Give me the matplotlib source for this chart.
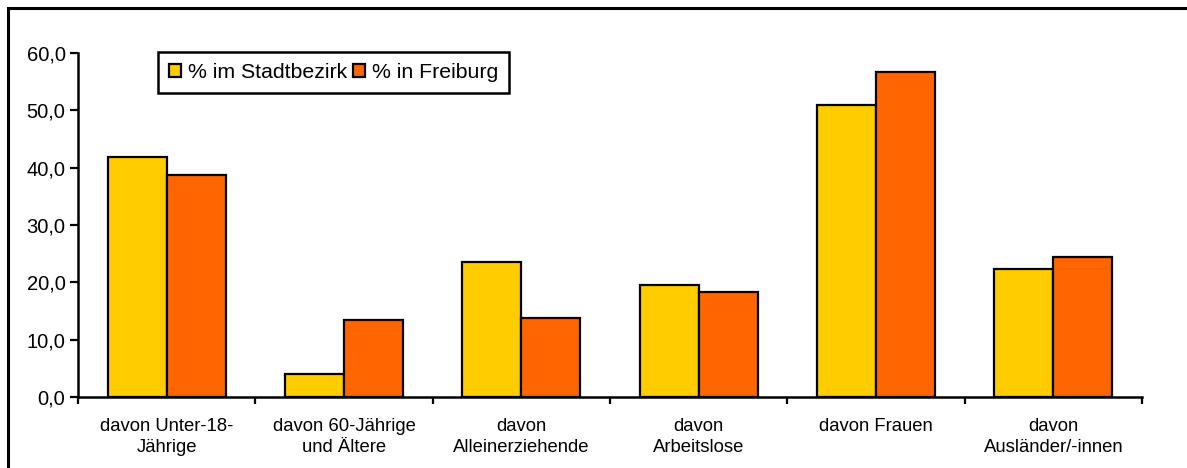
import numpy as np
import matplotlib
matplotlib.use("Agg")
import matplotlib.pyplot as plt
from matplotlib.patches import Rectangle

plt.rcParams['font.family'] = ['Liberation Sans', 'DejaVu Sans']

# categories and values
categories = ['davon Unter-18-\nJährige', 'davon 60-Jährige\nund Ältere',
              'davon\nAlleinerziehende', 'davon\nArbeitslose',
              'davon Frauen', 'davon\nAusländer/-innen']
stadtbezirk = [41.9, 4.0, 23.5, 19.5, 50.9, 22.3]
freiburg = [38.7, 13.4, 13.8, 18.3, 56.7, 24.4]
series_names = ['% im Stadtbezirk', '% in Freiburg']
yticks = [0, 10, 20, 30, 40, 50, 60]

W, H = 1187, 468
fig = plt.figure(figsize=(W / 100, H / 100), dpi=100)
ax = fig.add_axes([78 / W, 1 - 397 / H, (1142 - 78) / W, (397 - 53) / H])

x = np.arange(len(categories))
bw = 1 / 3
ax.bar(x - bw / 2, stadtbezirk, bw, color='#FFCC00', edgecolor='black',
       linewidth=1.6, label=series_names[0])
ax.bar(x + bw / 2, freiburg, bw, color='#FF6600', edgecolor='black',
       linewidth=1.6, label=series_names[1])

ax.set_xlim(-0.5, len(categories) - 0.5)
ax.set_ylim(0, 60)
ax.set_yticks(yticks)
ax.set_yticklabels([('%.1f' % v).replace('.', ',') for v in yticks])
ax.set_xticks(np.arange(len(categories) + 1) - 0.5)
ax.set_xticklabels([])
ax.set_xticks(x, minor=True)
ax.set_xticklabels(categories, minor=True, fontsize=13.3, linespacing=1.35)
ax.tick_params(axis='x', which='minor', length=0, pad=15)
ax.tick_params(axis='x', which='major', direction='out', length=5, width=1.6)
ax.tick_params(axis='y', direction='out', length=6, width=1.6, labelsize=14.5, pad=3)

for s in ['top', 'right']:
    ax.spines[s].set_visible(False)
for s in ['left', 'bottom']:
    ax.spines[s].set_linewidth(1.8)

leg = ax.legend(ncol=2, loc='upper left', bbox_to_anchor=((158 - 78) / (1142 - 78), 1 - (52 - 53) / 344),
                frameon=True, fancybox=False, framealpha=1, fontsize=15.3, handlelength=0.56,
                handleheight=0.56, handletextpad=0.33, columnspacing=0.28,
                borderpad=0.52, borderaxespad=0)
leg.get_frame().set_edgecolor('black')
leg.get_frame().set_linewidth(1.8)

# outer frame around the whole chart
fig.patches.append(Rectangle((8 / W, -0.1), 1.2, 1 - 8 / H + 0.1, transform=fig.transFigure,
                             fill=False, edgecolor='black', linewidth=2.2))

fig.savefig('out.png', dpi=100)
